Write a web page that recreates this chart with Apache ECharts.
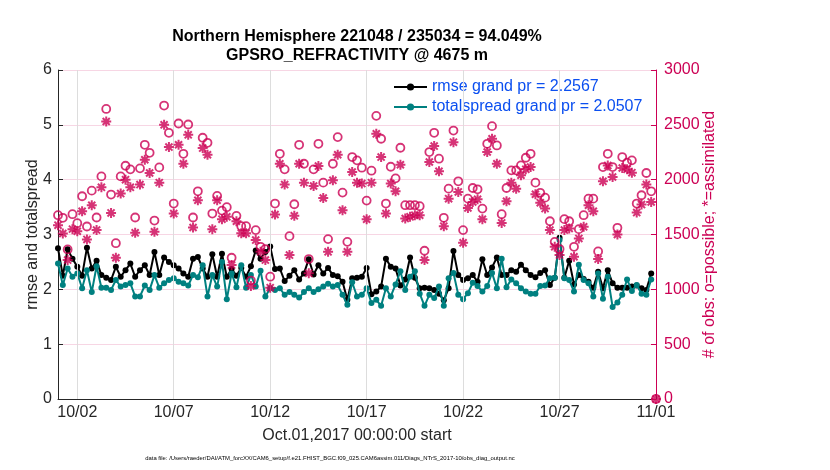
<!DOCTYPE html>
<html>
<head>
<meta charset="utf-8">
<script src="https://cdn.jsdelivr.net/npm/echarts@6/dist/echarts.min.js"></script>
<style>
  html, body { margin: 0; padding: 0; background: #fff; }
  #chart { width: 830px; height: 470px; }
</style>
</head>
<body>
<div id="chart"></div>
<script>
// 6-hourly bins, Oct 01 2017 00:00 to Nov 01 2017 00:00 (days since start)
const binStep = 0.25;
const tickDays = [1, 6, 11, 16, 21, 26, 31];
const tickLabels = ['10/02', '10/07', '10/12', '10/17', '10/22', '10/27', '11/01'];
const leftTicks = [0, 1, 2, 3, 4, 5, 6];
const rightTicks = [0, 500, 1000, 1500, 2000, 2500, 3000];

const rmse = [
  2.75, 2.25, 2.73, 2.56, 2.41, 2.25, 2.76, 2.38, 2.52, 2.26,
  2.21, 2.17, 2.41, 2.23, 2.35, 2.47, 2.23, 2.35, 2.44, 2.26,
  2.68, 2.26, 2.58, 2.50, 2.44, 2.38, 2.29, 2.23, 2.56, 2.59,
  2.38, 2.23, 2.64, 2.23, 2.65, 2.23, 2.37, 2.25, 2.39, 2.23,
  2.42, 2.71, 2.56, 2.68, 2.78, 2.37, 2.38, 2.15, 2.25, 2.35,
  2.18, 2.29, 2.55, 2.27, 2.44, 2.29, 2.39, 2.26, 2.24, 2.14,
  1.81, 2.20, 2.21, 2.23, 2.39, 1.91, 1.96, 2.05, 2.56, 2.41,
  2.38, 2.07, 2.18, 2.58, 2.21, 2.02, 2.03, 2.02, 1.99, 1.92,
  1.80, 2.02, 2.70, 2.26, 2.17, 2.20, 2.26, 2.14, 2.55, 2.26,
  2.40, 2.58, 2.26, 2.26, 2.35, 2.32, 2.45, 2.35, 2.26, 2.22,
  2.30, 2.35, 2.08, 2.21, 2.94, 2.21, 2.52, 2.09, 2.26, 2.19,
  2.14, 2.03, 2.32, 2.02, 2.35, 2.11, 2.03, 2.03, 2.03, 2.05,
  2.07, 2.02, 1.99, 2.29, null
];

const spread = [
  2.47, 2.08, 2.38, 2.23, 2.29, 2.02, 2.35, 1.95, 2.42, 2.03,
  2.03, 1.99, 2.17, 2.05, 2.08, 2.11, 1.87, 1.87, 2.07, 1.99,
  2.26, 2.03, 2.11, 2.17, 2.20, 2.14, 2.11, 2.07, 2.26, 2.22,
  2.44, 1.87, 2.26, 2.05, 2.50, 1.82, 2.29, 2.04, 2.44, 2.03,
  2.26, 2.05, 2.34, 1.87, 2.02, 1.99, 2.02, 1.90, 1.95, 1.90,
  1.85, 1.95, 2.02, 1.95, 2.00, 2.05, 2.10, 2.05, 2.08, 1.90,
  1.72, 2.13, 1.87, 1.90, 2.02, 1.75, 1.81, 1.70, 2.02, 1.87,
  2.09, 2.33, 1.99, 2.23, 2.33, 1.92, 1.70, 1.90, 1.84, 2.05,
  1.70, 2.20, 2.30, 1.90, 1.82, 1.93, 2.12, 2.06, 1.96, 2.06,
  2.30, 2.02, 2.56, 2.04, 2.18, 2.11, 2.02, 1.96, 1.92, 1.92,
  2.06, 2.07, 2.20, 2.21, 2.90, 2.20, 2.17, 1.96, 2.45, 2.17,
  2.11, 1.87, 2.29, 1.83, 2.23, 1.68, 1.76, 1.90, 2.18, 1.97,
  2.08, 1.92, 1.90, 2.18, null
];

const nPossible = [
  1676, 1652, 1364, 1685, 1603, 1849, 1573, 1900, 1655, 2030,
  2645, 1864, 1421, 2030, 2127, 2094, 1655, 2103, 2318, 2245,
  1627, 2112, 2676, 2427, 1782, 2512, 2236, 2503, 1655, 1894,
  2382, 2336, 1691, 1852, 1718, 1749, 1288, 1670, 1576, 1576,
  1080, 1540, 1388, 1367, 1115, 1782, 2236, 2094, 1485, 1776,
  2318, 2145, 1276, 2094, 2327, 1973, 1458, 2145, 2388, 1882,
  1433, 2206, 2176, 2109, 1809, 2082, 2582, 2373, 1782, 2118,
  2012, 2291, 1767, 1767, 1767, 1758, 1352, 2252, 2427, 2191,
  1652, 1918, 2448, 1985, 1540, 1827, 1924, 1912, 1736, 2327,
  2488, 2312, 1685, 1924, 2085, 2085, 2130, 2200, 2236, 1973,
  1880, 1836, 1621, 1433, 1367, 1640, 1621, 1388, 1549, 1676,
  1827, 1827, 1346, 2115, 2236, 2115, 1561, 2206, 2155, 2176,
  1782, 1858, 2061, 1894, 0
];

const nAssim = [
  1585, 1509, 1267, 1549, 1530, 1712, 1455, 1767, 1540, 1930,
  2530, 1697, 1288, 1873, 2000, 1930, 1515, 1955, 2182, 2061,
  1524, 1973, 2500, 2297, 1691, 2318, 2145, 2409, 1564, 1812,
  2288, 2227, 1549, 1812, 1640, 1661, 1221, 1621, 1512, 1512,
  1030, 1449, 1343, 1267, 1015, 1682, 2145, 1955, 1312, 1670,
  2145, 1973, 1146, 1942, 2124, 1833, 1342, 1994, 2227, 1721,
  1342, 2070, 1973, 1964, 1639, 1973, 2418, 2206, 1691, 1964,
  1894, 2136, 1646, 1661, 1676, 1676, 1267, 2161, 2306, 2076,
  1576, 1827, 2342, 1888, 1424, 1742, 1797, 1821, 1639, 2252,
  2373, 2145, 1606, 1803, 1973, 1918, 2040, 2094, 2115, 1867,
  1790, 1736, 1540, 1388, 1312, 1540, 1555, 1297, 1464, 1570,
  1767, 1712, 1276, 1985, 2130, 2024, 1500, 2106, 2094, 2064,
  1700, 1773, 1955, 1797, 0
];

const titleLines = [
  'Northern Hemisphere 221048 / 235034 = 94.049%',
  'GPSRO_REFRACTIVITY @ 4675 m'
];
const legendNames = ['rmse grand pr = 2.2567', 'totalspread grand pr = 2.0507'];
const dataFile = 'data file: /Users/raeder/DAI/ATM_forcXX/CAM6_setup/f.e21.FHIST_BGC.f09_025.CAM6assim.011/Diags_NTrS_2017-10/obs_diag_output.nc';

const FONT = "'Liberation Sans', Arial, Helvetica, sans-serif";
const PINK = '#cc0054';
const TEAL = '#008080';
const TXT = '#262626';

// asterisk marker (MATLAB '*')
const STAR = 'path://M0 8L20 8L20 12L0 12ZM8 0L12 0L12 20L8 20Z' +
  'M4.34 1.51L18.49 15.66L15.66 18.49L1.51 4.34Z' +
  'M1.51 15.66L15.66 1.51L18.49 4.34L4.34 18.49Z';

const pairs = (arr) => arr.map((v, i) => [i * binStep, v]);

const chart = echarts.init(document.getElementById('chart'), null, { renderer: 'canvas' });

chart.setOption({
  animation: false,
  backgroundColor: '#fff',
  textStyle: { fontFamily: FONT },
  grid: { left: 58, right: 174, top: 70, bottom: 71, containLabel: false },
  graphic: [
    {
      type: 'text', x: 357, y: 37, z: 10,
      style: { text: titleLines[0], font: 'bold 16px ' + FONT, fill: '#000', align: 'center', verticalAlign: 'middle' }
    },
    {
      type: 'text', x: 357, y: 56, z: 10,
      style: { text: titleLines[1], font: 'bold 16px ' + FONT, fill: '#000', align: 'center', verticalAlign: 'middle' }
    },
    {
      type: 'text', x: 330, y: 458, z: 10,
      style: { text: dataFile, font: '5.9px ' + FONT, fill: '#000', align: 'center', verticalAlign: 'middle' }
    }
  ],
  legend: {
    orient: 'vertical',
    left: 388,
    top: 74,
    itemWidth: 33,
    itemHeight: 9,
    itemGap: 4,
    data: legendNames,
    textStyle: { color: '#0b4ff0', fontSize: 16, fontFamily: FONT },
    selectedMode: false
  },
  xAxis: {
    type: 'value',
    min: 0,
    max: 31,
    axisLine: { lineStyle: { color: TXT, width: 1 } },
    axisTick: { inside: true, length: 5, customValues: tickDays, lineStyle: { color: TXT } },
    axisLabel: {
      customValues: tickDays,
      margin: 6,
      fontSize: 16,
      color: TXT,
      fontFamily: FONT,
      formatter: (v) => {
        const k = tickDays.indexOf(v);
        return k >= 0 ? tickLabels[k] : '';
      }
    },
    splitLine: { show: false },
    name: 'Oct.01,2017 00:00:00 start',
    nameLocation: 'middle',
    nameGap: 29,
    nameMoveOverlap: false,
    nameTextStyle: { fontSize: 16, color: TXT, fontFamily: FONT }
  },
  yAxis: [
    {
      type: 'value',
      position: 'left',
      min: leftTicks[0],
      max: leftTicks[leftTicks.length - 1],
      interval: 1,
      axisLine: { show: true, lineStyle: { color: TXT, width: 1 } },
      axisTick: { show: true, inside: true, length: 5, lineStyle: { color: TXT } },
      axisLabel: { margin: 6, fontSize: 16, color: TXT, fontFamily: FONT, formatter: (v) => String(v) },
      splitLine: { show: false },
      name: 'rmse and totalspread',
      nameLocation: 'middle',
      nameRotate: 90,
      nameGap: 17,
      nameMoveOverlap: false,
      nameTextStyle: { fontSize: 16, color: TXT, fontFamily: FONT }
    },
    {
      type: 'value',
      position: 'right',
      min: rightTicks[0],
      max: rightTicks[rightTicks.length - 1],
      interval: 500,
      axisLine: { show: true, lineStyle: { color: PINK, width: 1 } },
      axisTick: { show: true, inside: true, length: 5, lineStyle: { color: PINK } },
      axisLabel: { margin: 8, fontSize: 16, color: PINK, fontFamily: FONT, formatter: (v) => String(v) },
      splitLine: { show: true, lineStyle: { color: 'rgba(204,0,84,0.16)', width: 1 } },
      name: '# of obs: o=possible; *=assimilated',
      nameLocation: 'middle',
      nameRotate: 90,
      nameGap: 46,
      nameMoveOverlap: false,
      nameTextStyle: { fontSize: 16, color: PINK, fontFamily: FONT }
    }
  ],
  series: [
    {
      // vertical grid lines at the x ticks
      type: 'line',
      data: [],
      silent: true,
      z: 1,
      markLine: {
        silent: true,
        symbol: 'none',
        label: { show: false },
        lineStyle: { color: '#dddddd', width: 1, type: 'solid' },
        data: tickDays.slice(0, -1).map((d) => ({ xAxis: d }))
      }
    },
    {
      name: legendNames[0],
      type: 'line',
      yAxisIndex: 0,
      data: pairs(rmse),
      symbol: 'circle',
      symbolSize: 6,
      lineStyle: { color: '#000', width: 2 },
      itemStyle: { color: '#000' },
      z: 3
    },
    {
      name: legendNames[1],
      type: 'line',
      yAxisIndex: 0,
      data: pairs(spread),
      symbol: 'circle',
      symbolSize: 6,
      lineStyle: { color: TEAL, width: 2 },
      itemStyle: { color: TEAL },
      z: 4
    },
    {
      name: 'possible',
      type: 'scatter',
      yAxisIndex: 1,
      data: pairs(nPossible),
      symbol: 'circle',
      symbolSize: 8,
      itemStyle: { color: 'rgba(0,0,0,0)', borderColor: PINK, borderWidth: 1.8 },
      z: 5
    },
    {
      name: 'assimilated',
      type: 'scatter',
      yAxisIndex: 1,
      data: pairs(nAssim),
      symbol: STAR,
      symbolSize: 10,
      itemStyle: { color: PINK },
      z: 6
    }
  ]
});
</script>
</body>
</html>
